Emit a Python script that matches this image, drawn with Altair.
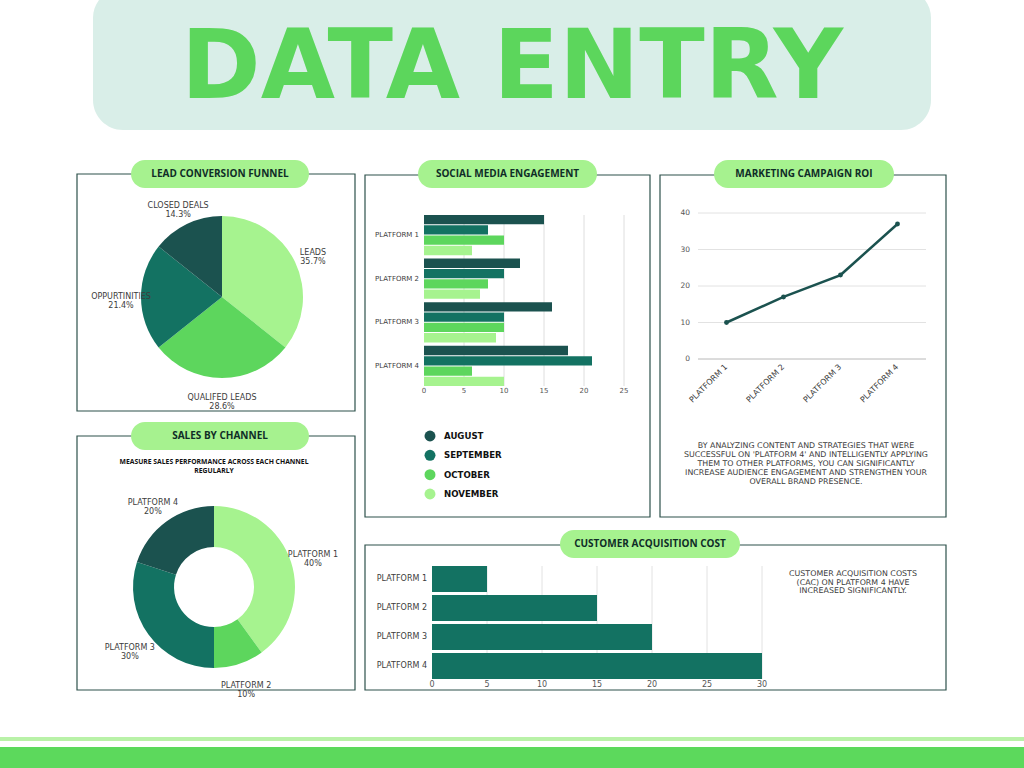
import altair as alt
import pandas as pd

# ------------------------------------------------------------------ data
page_title = "DATA ENTRY"
panel_titles = ["LEAD CONVERSION FUNNEL", "SALES BY CHANNEL", "SOCIAL MEDIA ENGAGEMENT",
                "MARKETING CAMPAIGN ROI", "CUSTOMER ACQUISITION COST"]

funnel_stages = ["LEADS", "QUALIFED LEADS", "OPPURTINITIES", "CLOSED DEALS"]
funnel_pct = [35.7, 28.6, 21.4, 14.3]

sales_channels = ["PLATFORM 1", "PLATFORM 2", "PLATFORM 3", "PLATFORM 4"]
sales_pct = [40, 10, 30, 20]
sales_subtitle = ["MEASURE SALES PERFORMANCE ACROSS EACH CHANNEL", "REGULARLY"]

platforms = ["PLATFORM 1", "PLATFORM 2", "PLATFORM 3", "PLATFORM 4"]
months = ["AUGUST", "SEPTEMBER", "OCTOBER", "NOVEMBER"]
engagement_aug = [15, 12, 16, 18]
engagement_sep = [8, 10, 10, 21]
engagement_oct = [10, 8, 10, 6]
engagement_nov = [6, 7, 9, 10]
engagement_ticks = [0, 5, 10, 15, 20, 25]

roi_values = [10, 17, 23, 37]
roi_ticks = [0, 10, 20, 30, 40]
roi_note = ["BY ANALYZING CONTENT AND STRATEGIES THAT WERE",
            "SUCCESSFUL ON 'PLATFORM 4' AND INTELLIGENTLY APPLYING",
            "THEM TO OTHER PLATFORMS, YOU CAN SIGNIFICANTLY",
            "INCREASE AUDIENCE ENGAGEMENT AND STRENGTHEN YOUR",
            "OVERALL BRAND PRESENCE."]

cac_values = [5, 15, 20, 30]
cac_ticks = [0, 5, 10, 15, 20, 25, 30]
cac_note = ["CUSTOMER ACQUISITION COSTS", "(CAC) ON PLATFORM 4 HAVE", "INCREASED SIGNIFICANTLY."]

# ------------------------------------------------------------------ styles
FONT = "DejaVu Sans"
TFONT = "Open Sans"
DARK = "#1b524f"
TEAL = "#137262"
GREEN = "#5dd65d"
LIGHT = "#a6f38f"
palette = [LIGHT, GREEN, TEAL, DARK]
month_colors = [DARK, TEAL, GREEN, LIGHT]
LABEL = "#3c3c3c"

one = pd.DataFrame({"k": [0]})


def rect(x, x2, y, y2, **kw):
    return alt.Chart(one).mark_rect(**kw).encode(
        x=alt.value(x), x2=alt.value(x2), y=alt.value(y), y2=alt.value(y2))


def text(x, y, t, **kw):
    return alt.Chart(one).mark_text(text=t, **kw).encode(x=alt.value(x), y=alt.value(y))


layers = []

# banner + bottom stripes
layers.append(rect(93, 931, -12, 130, fill="#d9eee8", cornerRadius=30))
layers.append(text(512, 98, page_title, font=FONT, fontWeight="bold", fontSize=96,
                   color="#5cd65c", align="center", baseline="alphabetic"))
layers.append(rect(0, 1024, 737, 741, fill="#b9f2a8"))
layers.append(rect(0, 1024, 747, 768, fill="#5cd95c"))

# panel frames
for (x0, x1, y0, y1) in [(77, 355, 174, 411), (77, 355, 436, 690), (365, 650, 175, 517),
                         (660, 946, 175, 517), (365, 946, 545, 690)]:
    layers.append(rect(x0, x1, y0, y1, fillOpacity=0, stroke="#2d514b", strokeWidth=1.2))

# pills
for (x0, x1, y0, y1), t in zip([(131, 309, 160, 188), (131, 309, 422, 450), (418, 597, 160, 188),
                                (714, 894, 160, 188), (560, 740, 530, 558)], panel_titles):
    layers.append(rect(x0, x1, y0, y1, fill="#a6f28f", cornerRadius=14))
    layers.append(text((x0 + x1) / 2, (y0 + y1) / 2, t, font=TFONT, fontWeight="bold",
                       fontSize=10, color="#0f2d27", align="center", baseline="middle"))


# ------------------------------------------------------------------ pies
def pie(labels, values, fmt, cx, cy, outer, inner, label_r):
    df = pd.DataFrame({"cat": labels, "val": values, "idx": list(range(len(labels)))})
    arc = alt.Chart(df).mark_arc(outerRadius=outer, innerRadius=inner).encode(
        theta=alt.Theta("val:Q", stack=True),
        order=alt.Order("idx:Q"),
        color=alt.Color("cat:N", scale=alt.Scale(domain=labels, range=palette), legend=None),
        x=alt.value(cx), y=alt.value(cy))
    lab = alt.Chart(df).transform_calculate(
        lab="datum.cat + '\\n' + format(datum.val, '" + fmt + "') + '%'"
    ).mark_text(radius=label_r, font=FONT, fontSize=8, color=LABEL, lineBreak="\n",
                align="center", baseline="middle", lineHeight=9).encode(
        theta=alt.Theta("val:Q", stack=True),
        order=alt.Order("idx:Q"),
        detail="cat:N",
        text="lab:N",
        x=alt.value(cx), y=alt.value(cy))
    return alt.layer(arc, lab)


layers.append(pie(funnel_stages, funnel_pct, ".1f", 222, 297, 81, 0, 101))
layers.append(pie(sales_channels, sales_pct, "d", 214, 587, 81, 40, 104))
layers.append(text(214, 459, sales_subtitle, font=TFONT, fontWeight="bold", fontSize=6.8,
                   color="#111111", align="center", baseline="top", lineHeight=9))

# ------------------------------------------------------------------ social media engagement
soc_df = pd.DataFrame({
    "platform": platforms * 4,
    "month": [m for m in months for _ in platforms],
    "val": engagement_aug + engagement_sep + engagement_oct + engagement_nov,
})
soc_x = alt.Scale(domain=[0, 25], range=[424, 624], nice=False)
soc_y = alt.Scale(domain=platforms, range=[215, 386], paddingInner=0.08, paddingOuter=0)
soc_grid = alt.Chart(pd.DataFrame({"t": engagement_ticks[1:]})).mark_rule(
    color="#dedede", strokeWidth=1).encode(
    x=alt.X("t:Q", scale=soc_x, axis=None), y=alt.value(215), y2=alt.value(386))
soc_bars = alt.Chart(soc_df).mark_bar().encode(
    x=alt.X("val:Q", scale=soc_x, axis=None),
    y=alt.Y("platform:N", scale=soc_y, axis=None),
    yOffset=alt.YOffset("month:N", scale=alt.Scale(domain=months, paddingInner=0.1)),
    color=alt.Color("month:N", scale=alt.Scale(domain=months, range=month_colors), legend=None))
soc_ticklab = alt.Chart(pd.DataFrame({"t": engagement_ticks})).mark_text(
    font=FONT, fontSize=7, color="#555555", align="center", baseline="middle").encode(
    x=alt.X("t:Q", scale=soc_x, axis=None), y=alt.value(391), text="t:Q")
soc_plab = alt.Chart(pd.DataFrame({"platform": platforms})).mark_text(
    font=FONT, fontSize=7, color=LABEL, align="right", baseline="middle").encode(
    y=alt.Y("platform:N", scale=soc_y, axis=None), x=alt.value(419), text="platform:N")
layers.append(alt.layer(soc_grid, soc_bars, soc_ticklab, soc_plab))

leg_df = pd.DataFrame({"month": months})
leg_y = alt.Scale(type="point", domain=months, range=[436, 494], padding=0)
leg_pts = alt.Chart(leg_df).mark_point(filled=True, shape="circle", size=120, opacity=1).encode(
    x=alt.value(430), y=alt.Y("month:N", scale=leg_y, axis=None),
    color=alt.Color("month:N", scale=alt.Scale(domain=months, range=month_colors), legend=None))
leg_txt = alt.Chart(leg_df).mark_text(font=FONT, fontWeight="bold", fontSize=8.6, color="#111111",
                                      align="left", baseline="middle").encode(
    x=alt.value(444), y=alt.Y("month:N", scale=leg_y, axis=None), text="month:N")
layers.append(alt.layer(leg_pts, leg_txt))

# ------------------------------------------------------------------ marketing campaign ROI
roi_df = pd.DataFrame({"platform": platforms, "roi": roi_values})
roi_x = alt.Scale(type="point", domain=platforms, range=[698, 926], padding=0.5)
roi_y = alt.Scale(domain=[0, 40], range=[359, 213], nice=False)
roi_grid = alt.Chart(pd.DataFrame({"t": roi_ticks})).mark_rule(strokeWidth=1).encode(
    y=alt.Y("t:Q", scale=roi_y, axis=None), x=alt.value(698), x2=alt.value(926),
    color=alt.condition("datum.t == 0", alt.value("#b8b8b8"), alt.value("#e2e2e2")))
roi_line = alt.Chart(roi_df).mark_line(color=DARK, strokeWidth=2.5).encode(
    x=alt.X("platform:N", scale=roi_x, axis=None), y=alt.Y("roi:Q", scale=roi_y, axis=None))
roi_pts = alt.Chart(roi_df).mark_point(filled=True, size=24, color=DARK, opacity=1).encode(
    x=alt.X("platform:N", scale=roi_x, axis=None), y=alt.Y("roi:Q", scale=roi_y, axis=None))
roi_ylab = alt.Chart(pd.DataFrame({"t": roi_ticks})).mark_text(
    font=FONT, fontSize=7.5, color="#555555", align="right", baseline="middle").encode(
    y=alt.Y("t:Q", scale=roi_y, axis=None), x=alt.value(690), text="t:Q")
roi_xlab = alt.Chart(pd.DataFrame({"platform": platforms})).mark_text(
    font=FONT, fontSize=8, color=LABEL, align="right", baseline="middle", angle=315).encode(
    x=alt.X("platform:N", scale=roi_x, axis=None), y=alt.value(366), text="platform:N")
layers.append(alt.layer(roi_grid, roi_line, roi_pts, roi_ylab, roi_xlab))
layers.append(text(806, 442, roi_note, font=FONT, fontSize=7.9, color=LABEL, align="center",
                   baseline="top", lineHeight=8.9))

# ------------------------------------------------------------------ customer acquisition cost
cac_df = pd.DataFrame({"platform": platforms, "cost": cac_values})
cac_x = alt.Scale(domain=[0, 30], range=[432, 762], nice=False)
cac_y = alt.Scale(domain=platforms, range=[566, 679], paddingInner=0.1, paddingOuter=0)
cac_grid = alt.Chart(pd.DataFrame({"t": cac_ticks[1:]})).mark_rule(
    color="#e2e2e2", strokeWidth=1).encode(
    x=alt.X("t:Q", scale=cac_x, axis=None), y=alt.value(566), y2=alt.value(679))
cac_bars = alt.Chart(cac_df).mark_bar(color=TEAL).encode(
    x=alt.X("cost:Q", scale=cac_x, axis=None), y=alt.Y("platform:N", scale=cac_y, axis=None))
cac_ticklab = alt.Chart(pd.DataFrame({"t": cac_ticks})).mark_text(
    font=FONT, fontSize=8, color="#555555", align="center", baseline="middle").encode(
    x=alt.X("t:Q", scale=cac_x, axis=None), y=alt.value(685), text="t:Q")
cac_plab = alt.Chart(pd.DataFrame({"platform": platforms})).mark_text(
    font=FONT, fontSize=8, color=LABEL, align="right", baseline="middle").encode(
    y=alt.Y("platform:N", scale=cac_y, axis=None), x=alt.value(427), text="platform:N")
layers.append(alt.layer(cac_grid, cac_bars, cac_ticklab, cac_plab))
layers.append(text(853, 570, cac_note, font=FONT, fontSize=7.9, color=LABEL, align="center",
                   baseline="top", lineHeight=8.6))

chart = alt.layer(*layers).resolve_scale(
    x="independent", y="independent", color="independent", theta="independent"
).properties(
    width=1024, height=768, padding=0, background="white",
    autosize=alt.AutoSizeParams(type="none"),
).configure_view(stroke=None)

chart.save("out.html", embed_options={"renderer": "svg", "actions": False})
